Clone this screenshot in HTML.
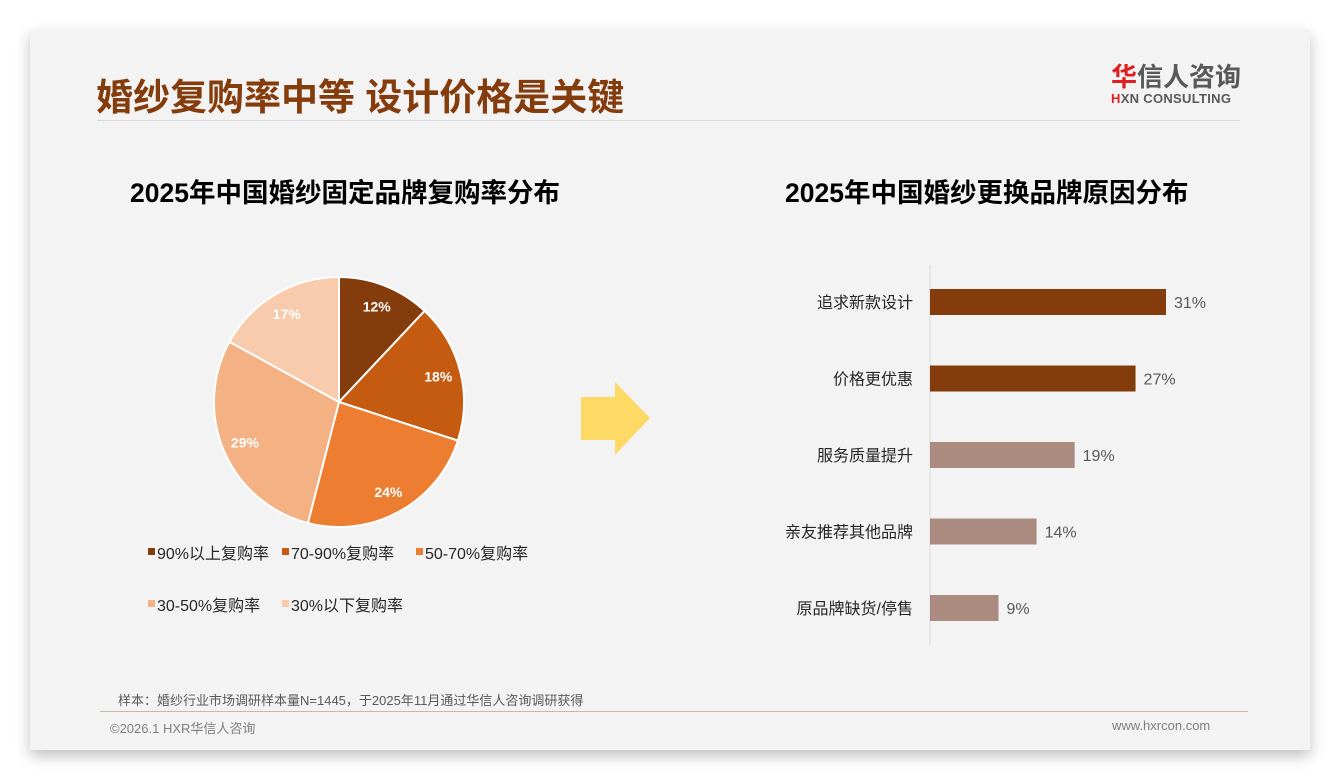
<!DOCTYPE html>
<html><head><meta charset="utf-8">
<style>
body{margin:0;width:1340px;height:780px;background:#fff;font-family:"Liberation Sans","Noto Sans CJK SC",sans-serif;position:relative;overflow:hidden}
#slide{position:absolute;left:30px;top:30px;width:1280px;height:720px;background:#f3f3f3;box-shadow:0 6px 14px rgba(0,0,0,0.25)}
.abs{position:absolute;white-space:nowrap}
</style></head><body>
<div id="slide"></div>
<div class="abs" style="left:96px;top:67px;font-size:37px;font-weight:bold;color:#843c0c">婚纱复购率中等 设计价格是关键</div>
<div class="abs" style="left:97px;top:120px;width:1143px;height:1px;background:#d9d9d9"></div>
<div class="abs" style="left:1111px;top:62px;width:135px;text-align:left">
 <div style="font-size:26px;font-weight:bold;color:#595959;line-height:30px"><span style="color:#e02020">华</span>信人咨询</div>
 <div style="font-size:13px;font-weight:bold;color:#595959;line-height:14px;letter-spacing:0.3px"><span style="color:#e02020">H</span>XN CONSULTING</div>
</div>
<div class="abs" style="left:130px;top:171px;font-size:26.5px;font-weight:bold;color:#000">2025年中国婚纱固定品牌复购率分布</div>
<div class="abs" style="left:785px;top:171px;font-size:26.5px;font-weight:bold;color:#000">2025年中国婚纱更换品牌原因分布</div>
<svg class="abs" style="left:0;top:0" width="1340" height="780" id="svg">
 <polygon points="581,397 615,397 615,382 650,418 615,455 615,440 581,440" fill="#ffd966"/>
</svg>
<div class="abs" style="left:118px;top:690px;font-size:13px;color:#595959">样本：婚纱行业市场调研样本量N=1445，于2025年11月通过华信人咨询调研获得</div>
<div class="abs" style="left:100px;top:711px;width:1148px;height:1px;background:#c8b8a8"></div>
<div class="abs" style="left:110px;top:718px;font-size:13px;color:#7f7f7f">©2026.1 HXR华信人咨询</div>
<div class="abs" style="left:1112px;top:718px;font-size:13px;color:#7f7f7f">www.hxrcon.com</div>
<script>
const pieLabels=["90%以上复购率","70-90%复购率","50-70%复购率","30-50%复购率","30%以下复购率"];
const pieValues=[12,18,24,29,17];
const pieColors=["#843c0c","#c55a11","#ed7d31","#f4b183","#f8cbad"];
const barCats=["追求新款设计","价格更优惠","服务质量提升","亲友推荐其他品牌","原品牌缺货/停售"];
const barValues=[31,27,19,14,9];
const barColors=["#843c0c","#843c0c","#ab8b80","#ab8b80","#ab8b80"];
const NS="http://www.w3.org/2000/svg";
const svg=document.getElementById('svg');
function mk(t,a){const e=document.createElementNS(NS,t);for(const k in a)e.setAttribute(k,a[k]);svg.appendChild(e);return e;}
const cx=339,cy=402,R=125;
const tot=pieValues.reduce((a,b)=>a+b,0);
let acc=0;
pieValues.forEach((v,i)=>{
 const a0=acc/tot*2*Math.PI;acc+=v;const a1=acc/tot*2*Math.PI;
 const p=a=>[cx+R*Math.sin(a),cy-R*Math.cos(a)];
 const [x0,y0]=p(a0),[x1,y1]=p(a1);
 const large=(a1-a0)>Math.PI?1:0;
 const s=mk('path',{d:`M${cx},${cy} L${x0},${y0} A${R},${R} 0 ${large} 1 ${x1},${y1} Z`,fill:pieColors[i],stroke:'#fff','stroke-width':2});
 
 
 const am=(a0+a1)/2,r=R*0.82;
 const t=mk('text',{x:cx+r*Math.sin(am),y:cy-r*Math.cos(am)+5,'text-anchor':'middle','font-size':14,'font-weight':'bold',fill:'#fff'});
 t.textContent=v+'%';
 
 
});
const legPos=[[148,559],[282,559],[416,559],[148,611],[282,611]];
pieLabels.forEach((l,i)=>{
 const [x,y]=legPos[i];
 const r=mk('rect',{x:x,y:y-11,width:7,height:7,fill:pieColors[i]});
 
 
 const t=mk('text',{x:x+9,y:y,'font-size':16,fill:'#262626'});
 t.textContent=l;
 
 
});
const x0=930,scale=236/31,top0=302,step=76.5,bh=26;
const ax=mk('line',{x1:x0,y1:265,x2:x0,y2:646,stroke:'#d9d9d9','stroke-width':1});


barCats.forEach((c,i)=>{
 const yc=top0+i*step,w=barValues[i]*scale;
 const b=mk('rect',{x:x0,y:yc-bh/2,width:w,height:bh,fill:barColors[i]});
 
 
 const t=mk('text',{x:x0-17,y:yc+6,'text-anchor':'end','font-size':16,fill:'#262626'});
 t.textContent=c;
 
 
 const v=mk('text',{x:x0+w+8,y:yc+6,'font-size':16,fill:'#595959'});
 v.textContent=barValues[i]+'%';
 
 
});
</script>
</body></html>
